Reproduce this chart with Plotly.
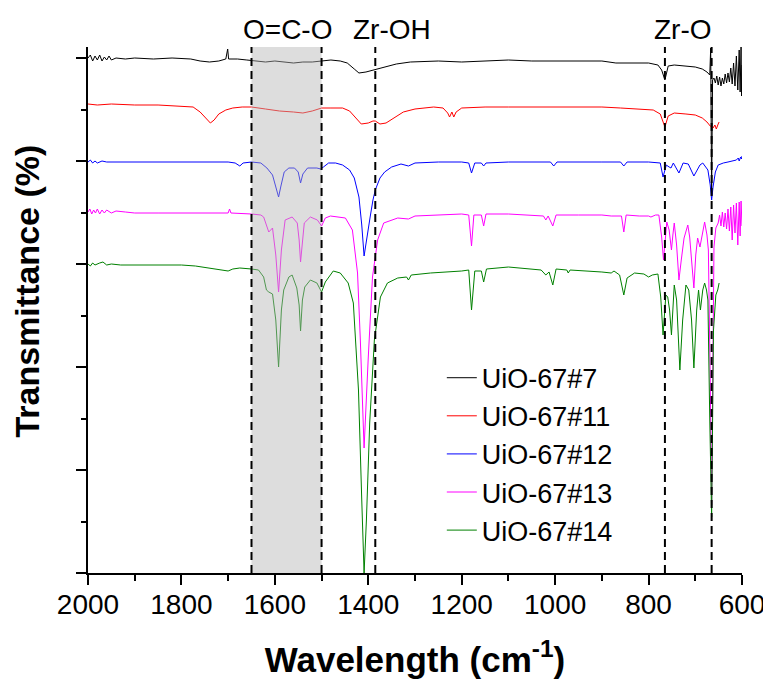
import plotly.graph_objects as go

# Wavenumber (cm-1) / offset transmittance (arbitrary units)
w7 = [2000, 1995, 1990, 1985, 1980, 1975, 1970, 1965, 1960, 1955, 1950, 1940, 1920, 1900, 1860, 1820, 1780, 1760, 1740, 1720, 1705, 1701, 1699, 1680, 1660, 1640, 1620, 1600, 1580, 1560, 1540, 1520, 1500, 1480, 1460, 1445, 1430, 1420, 1405, 1390, 1380, 1360, 1340, 1310, 1250, 1200, 1150, 1100, 1050, 1000, 950, 900, 870, 840, 800, 780, 772, 765, 758, 745, 720, 700, 685, 675, 669, 667, 665, 663, 660, 657, 654, 651, 648, 645, 642, 639, 636, 633, 630, 627, 624, 621, 618, 615, 612, 609, 606, 604, 602, 601, 600]
t7 = [515, 518, 512, 517, 513, 518, 512, 516, 513, 517, 513, 515, 514, 515, 514, 515, 514, 512, 511, 512, 514, 524, 514, 514, 513, 512, 511, 512, 511, 510, 511, 511, 512, 513, 512, 510, 504, 500, 501, 503, 504, 507, 509, 511, 512, 511, 512, 513, 512, 512, 512, 512, 510, 510, 510, 508, 503, 493, 507, 508, 507, 506, 504, 501, 498, 525, 378, 493, 495, 490, 497, 488, 496, 487, 495, 489, 499, 490, 500, 491, 505, 489, 510, 487, 517, 483, 523, 481, 526, 477, 508]

w11 = [2000, 1980, 1950, 1900, 1850, 1800, 1775, 1760, 1745, 1738, 1730, 1720, 1705, 1690, 1670, 1650, 1620, 1590, 1560, 1540, 1520, 1500, 1480, 1455, 1440, 1425, 1415, 1400, 1390, 1385, 1375, 1362, 1345, 1325, 1300, 1260, 1240, 1230, 1226, 1221, 1217, 1212, 1200, 1150, 1100, 1050, 1000, 950, 900, 860, 820, 790, 775, 765, 758, 745, 720, 700, 685, 675, 668, 662, 658, 655, 651, 649]
t11 = [469, 468, 469, 468, 468, 467, 466, 461, 454, 450, 453, 459, 463, 465, 466, 466, 464, 462, 461, 460, 462, 465, 465, 465, 462, 454, 449, 450, 452, 452, 449, 450, 455, 461, 464, 466, 465, 460, 456, 461, 456, 461, 465, 466, 466, 466, 466, 466, 466, 465, 464, 463, 459, 446, 457, 460, 459, 458, 455, 451, 447, 445, 448, 444, 449, 451]

w12 = [2000, 1995, 1990, 1985, 1980, 1970, 1960, 1940, 1900, 1850, 1800, 1750, 1700, 1685, 1675, 1668, 1650, 1630, 1617, 1605, 1597, 1592, 1587, 1580, 1570, 1558, 1550, 1545, 1540, 1530, 1510, 1502, 1496, 1485, 1470, 1455, 1440, 1430, 1420, 1414, 1409, 1403, 1396, 1390, 1385, 1375, 1365, 1350, 1330, 1314, 1300, 1250, 1200, 1185, 1179, 1172, 1158, 1153, 1148, 1100, 1010, 1003, 996, 900, 860, 853, 846, 800, 775, 769, 762, 756, 752, 747, 735, 726, 715, 703, 690, 684, 673, 668, 665, 662, 657, 651, 640, 630, 620, 612, 608, 606, 603, 601, 600]
t12 = [411, 413, 410, 412, 410, 412, 411, 411, 411, 411, 411, 411, 411, 410, 407, 410, 411, 410, 405, 398, 385, 376, 387, 401, 405, 405, 401, 390, 399, 405, 405, 404, 406, 410, 410, 408, 403, 395, 376, 348, 317, 333, 356, 373, 383, 395, 401, 406, 409, 407, 410, 411, 411, 410, 400, 410, 410, 407, 410, 411, 411, 407, 411, 411, 411, 407, 411, 411, 410, 396, 408, 406, 405, 410, 400, 410, 409, 397, 408, 410, 403, 388, 373, 386, 401, 408, 410, 411, 412, 413, 415, 412, 416, 414, 417]

w13 = [2000, 1996, 1992, 1988, 1984, 1980, 1975, 1970, 1965, 1960, 1950, 1940, 1920, 1900, 1850, 1800, 1750, 1700, 1697, 1694, 1650, 1630, 1624, 1616, 1613, 1605, 1598, 1592, 1586, 1578, 1563, 1552, 1548, 1545, 1541, 1537, 1524, 1509, 1500, 1492, 1481, 1449, 1434, 1423, 1417, 1409, 1400, 1391, 1380, 1367, 1337, 1314, 1300, 1250, 1200, 1185, 1179, 1174, 1158, 1153, 1148, 1100, 1050, 1025, 1020, 1015, 1005, 998, 950, 900, 880, 874, 858, 853, 848, 820, 800, 795, 785, 778, 772, 768, 764, 761, 756, 751, 748, 745, 740, 735, 730, 724, 716, 712, 708, 703, 699, 695, 690, 684, 680, 675, 672, 668, 665, 662, 660, 656, 651, 648, 645, 642, 639, 636, 633, 630, 627, 624, 621, 618, 615, 612, 609, 606, 604, 602, 600]
t13 = [361, 364, 359, 363, 360, 364, 359, 363, 360, 363, 360, 362, 361, 360, 360, 360, 360, 360, 364, 360, 359, 358, 356, 345, 341, 345, 318, 281, 323, 353, 356, 350, 333, 311, 333, 350, 356, 353, 347, 355, 357, 355, 343, 300, 233, 125, 216, 296, 333, 350, 355, 354, 357, 358, 359, 358, 327, 358, 358, 347, 359, 359, 358, 357, 353, 357, 347, 358, 358, 358, 357, 357, 357, 341, 358, 357, 357, 356, 358, 358, 336, 313, 338, 351, 343, 323, 338, 350, 328, 293, 313, 335, 348, 336, 313, 285, 318, 335, 326, 343, 351, 338, 323, 193, 68, 223, 326, 345, 350, 358, 347, 361, 346, 360, 344, 364, 342, 366, 333, 368, 340, 370, 328, 371, 337, 372, 347]

w14 = [2000, 1995, 1990, 1985, 1975, 1968, 1960, 1950, 1930, 1900, 1850, 1800, 1770, 1740, 1715, 1700, 1690, 1675, 1650, 1635, 1624, 1618, 1613, 1605, 1598, 1592, 1586, 1581, 1570, 1563, 1553, 1548, 1545, 1541, 1536, 1524, 1510, 1500, 1492, 1475, 1460, 1443, 1432, 1421, 1414, 1409, 1404, 1397, 1387, 1374, 1359, 1337, 1318, 1314, 1308, 1267, 1200, 1185, 1179, 1172, 1158, 1153, 1147, 1100, 1030, 1020, 1013, 1005, 998, 975, 972, 968, 900, 880, 874, 862, 853, 846, 830, 810, 800, 792, 780, 774, 769, 763, 759, 755, 751, 745, 740, 733, 727, 720, 714, 708, 703, 697, 693, 689, 684, 680, 676, 673, 669, 665, 661, 658, 656, 652, 649]
t14 = [309, 307, 310, 308, 310, 311, 308, 309, 308, 308, 308, 308, 307, 305, 303, 302, 304, 305, 304, 303, 296, 283, 281, 279, 253, 206, 263, 283, 296, 298, 285, 268, 242, 273, 286, 293, 290, 281, 291, 302, 300, 290, 270, 183, 73, 0, 53, 150, 233, 276, 290, 295, 296, 293, 298, 300, 302, 303, 263, 302, 302, 291, 304, 306, 303, 298, 301, 288, 304, 303, 300, 303, 301, 300, 302, 298, 278, 295, 300, 299, 296, 298, 299, 276, 238, 278, 276, 263, 238, 288, 273, 203, 253, 288, 283, 253, 205, 263, 283, 263, 283, 290, 283, 273, 153, 56, 243, 273, 278, 283, 290]

series_names = ["UiO-67#7", "UiO-67#11", "UiO-67#12", "UiO-67#13", "UiO-67#14"]
series_x = [w7, w11, w12, w13, w14]
series_y = [t7, t11, t12, t13, t14]
series_colors = ["#000000", "#FF0000", "#0000FF", "#FF00FF", "#008000"]

band_labels = ["O=C-O", "Zr-OH", "Zr-O"]
band_label_pos = [1572, 1349, 726]
marker_lines = [1650, 1500, 1385, 765, 665]
shaded_band = [1650, 1500]

x_ticks = [2000, 1800, 1600, 1400, 1200, 1000, 800, 600]

FONT = "Arial, Liberation Sans, sans-serif"

fig = go.Figure()
for name, xs, ys, col in zip(series_names, series_x, series_y, series_colors):
    fig.add_trace(go.Scatter(x=xs, y=ys, mode="lines", name=name,
                             line=dict(color=col, width=1)))

fig.add_shape(type="rect", xref="x", yref="paper", x0=shaded_band[0], x1=shaded_band[1],
              y0=0, y1=1, fillcolor="rgba(180,180,180,0.45)", line=dict(width=0), layer="above")
for xv in marker_lines:
    fig.add_shape(type="line", xref="x", yref="paper", x0=xv, x1=xv, y0=0, y1=1,
                  line=dict(color="black", width=2, dash="8px,5px"), layer="above")

for lab, xv in zip(band_labels, band_label_pos):
    fig.add_annotation(x=xv, xref="x", y=1.034, yref="paper", text=lab, showarrow=False,
                       font=dict(family=FONT, size=28, color="black"), xanchor="center", yanchor="middle")

# y-axis title (placed as rotated text, slightly above the plot centre like the original)
fig.add_annotation(x=-0.0925, xref="paper", y=0.536, yref="paper",
                   text="<b>Transmittance (%)</b>", textangle=-90, showarrow=False,
                   font=dict(family=FONT, size=34, color="black"),
                   xanchor="center", yanchor="middle")

fig.update_layout(
    width=763, height=671,
    margin=dict(l=80, r=29, t=39, b=106, autoexpand=False),
    plot_bgcolor="white", paper_bgcolor="white",
    font=dict(family=FONT, color="black"),
    showlegend=True,
    legend=dict(x=0.541, y=0.417, xanchor="left", yanchor="top", bgcolor="rgba(0,0,0,0)",
                font=dict(family=FONT, size=27, color="black"), borderwidth=0,
                tracegroupgap=0),
    xaxis=dict(range=[2000, 600], tickvals=x_ticks, ticktext=[str(v) for v in x_ticks],
               ticks="outside", ticklen=10, tickwidth=2, tickcolor="black", automargin=False,
               ticklabelstandoff=-5,
               minor=dict(dtick=100, ticklen=6, tickwidth=2, tickcolor="black", ticks="outside"),
               showline=True, linewidth=2, linecolor="black", showgrid=False, zeroline=False,
               tickfont=dict(family=FONT, size=28, color="black"),
               title=dict(text="<b>Wavelength (cm<sup>-1</sup>)</b>", standoff=29,
                          font=dict(family=FONT, size=35, color="black"))),
    yaxis=dict(range=[0, 526], tick0=0, dtick=103, showticklabels=False, automargin=False,
               ticks="outside", ticklen=10, tickwidth=2, tickcolor="black",
               minor=dict(dtick=51.5, ticklen=5, tickwidth=2, tickcolor="black", ticks="outside"),
               showline=True, linewidth=2, linecolor="black", showgrid=False, zeroline=False),
)

fig.write_html("out.html")
